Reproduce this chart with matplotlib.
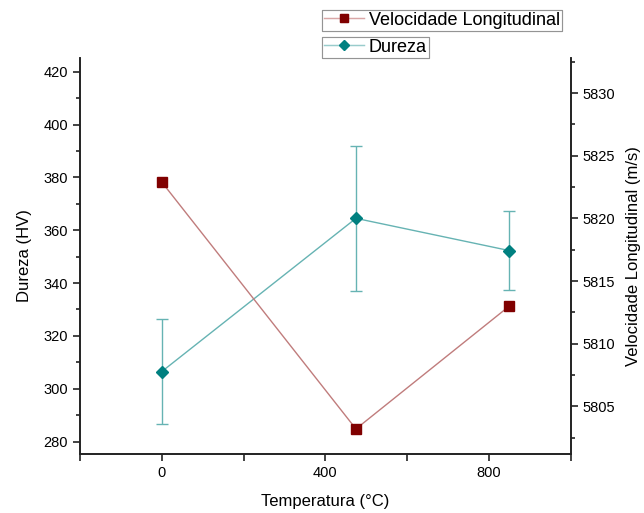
import matplotlib.pyplot as plt
from matplotlib.lines import Line2D
from matplotlib.ticker import MultipleLocator

plt.rcParams['font.family'] = ['Liberation Sans', 'DejaVu Sans']

# dados
temperatura = [0, 475, 850]
dureza = [306.5, 364.5, 352.3]
dureza_err = [20.0, 27.5, 15.0]
velocidade = [5822.9, 5803.2, 5813.0]

fig = plt.figure(figsize=(6.44, 5.13), dpi=100)
ax = fig.add_axes([0.1242, 0.115, 0.7618, 0.772])
ax2 = ax.twinx()

# Dureza (eixo esquerdo)
ax.errorbar(temperatura, dureza, yerr=dureza_err, color='#66b3b3', lw=1.0,
            capsize=4.5, capthick=1.0, elinewidth=1.0, zorder=3)
ax.plot(temperatura, dureza, ls='none', marker='D', ms=6.5, color='#008080', zorder=4)

# Velocidade (eixo direito)
ax2.plot(temperatura, velocidade, color='#c07c7c', lw=1.0, zorder=3)
ax2.plot(temperatura, velocidade, ls='none', marker='s', ms=6.5, color='#800000', zorder=4)

ax.set_xlim(-200, 1000)
ax.set_ylim(275.3, 425.2)
ax2.set_ylim(5801.2, 5832.8)

ax.xaxis.set_major_locator(MultipleLocator(400))
ax.xaxis.set_minor_locator(MultipleLocator(200))
ax.yaxis.set_major_locator(MultipleLocator(20))
ax.yaxis.set_minor_locator(MultipleLocator(10))
ax2.yaxis.set_major_locator(MultipleLocator(5))
ax2.yaxis.set_minor_locator(MultipleLocator(2.5))

for a in (ax, ax2):
    a.spines['top'].set_visible(False)
    for s in a.spines.values():
        s.set_linewidth(1.2)
        s.set_color('#222222')
    a.tick_params(which='major', length=5, width=1.2, labelsize=10.5, color='#222222')
    a.tick_params(which='minor', length=3, width=1.2, color='#222222')
ax.tick_params(axis='x', which='minor', length=5)

ax.set_xlabel('Temperatura (°C)', fontsize=12, labelpad=10)
ax.set_ylabel('Dureza (HV)', fontsize=12, labelpad=8)
ax2.set_ylabel('Velocidade Longitudinal (m/s)', fontsize=12, labelpad=8)

# legendas separadas
h_vel = Line2D([], [], color='#d9a6a6', lw=1.0, marker='s', ms=5.5,
               markerfacecolor='#800000', markeredgecolor='#800000')
h_dur = Line2D([], [], color='#99cccc', lw=1.0, marker='D', ms=5.5,
               markerfacecolor='#008080', markeredgecolor='#008080')
for h, lab, y in [(h_vel, 'Velocidade Longitudinal', 1 - 10 / 513),
                  (h_dur, 'Dureza', 1 - 37 / 513)]:
    leg = fig.legend([h], [lab], loc='upper left', bbox_to_anchor=(322 / 644, y),
                     fontsize=13, frameon=True, fancybox=False, edgecolor='#888888',
                     borderpad=0.1, handlelength=2.2, handletextpad=0.3, borderaxespad=0)
    leg.get_frame().set_linewidth(0.8)
    fig.add_artist(leg)

plt.savefig('out.png', dpi=100)
